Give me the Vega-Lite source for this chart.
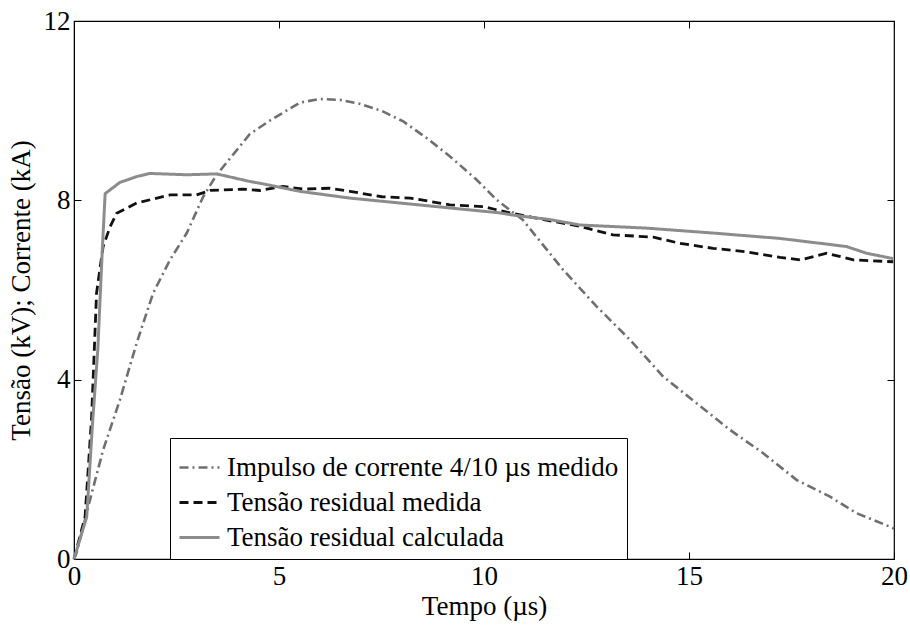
{
  "$schema": "https://vega.github.io/schema/vega-lite/v6.json",
  "width": 820,
  "height": 538,
  "autosize": "none",
  "padding": {"left": 74, "top": 21, "right": 16, "bottom": 66},
  "background": "white",
  "config": {
    "view": {"stroke": "black", "strokeWidth": 1.2},
    "font": "'Liberation Serif', 'DejaVu Serif', serif",
    "axis": {"grid": false, "domainColor": "black", "tickColor": "black", "labelColor": "black", "titleColor": "black", "labelFont": "'Liberation Serif', 'DejaVu Serif', serif", "titleFont": "'Liberation Serif', 'DejaVu Serif', serif", "labelFontSize": 27, "titleFontSize": 27, "titleFontWeight": "normal", "tickSize": -7, "tickWidth": 1}
  },
  "datasets": {
    "curves": [
      {"s": "Impulso de corrente 4/10 µs medido", "t": 0, "v": 0},
      {"s": "Impulso de corrente 4/10 µs medido", "t": 0.06, "v": 0.13},
      {"s": "Impulso de corrente 4/10 µs medido", "t": 0.39, "v": 1.32},
      {"s": "Impulso de corrente 4/10 µs medido", "t": 0.71, "v": 2.43},
      {"s": "Impulso de corrente 4/10 µs medido", "t": 1.12, "v": 3.55},
      {"s": "Impulso de corrente 4/10 µs medido", "t": 1.53, "v": 4.82},
      {"s": "Impulso de corrente 4/10 µs medido", "t": 1.93, "v": 5.93},
      {"s": "Impulso de corrente 4/10 µs medido", "t": 2.34, "v": 6.67},
      {"s": "Impulso de corrente 4/10 µs medido", "t": 2.75, "v": 7.27},
      {"s": "Impulso de corrente 4/10 µs medido", "t": 3.15, "v": 8.08},
      {"s": "Impulso de corrente 4/10 µs medido", "t": 3.48, "v": 8.57},
      {"s": "Impulso de corrente 4/10 µs medido", "t": 3.97, "v": 9.12},
      {"s": "Impulso de corrente 4/10 µs medido", "t": 4.29, "v": 9.48},
      {"s": "Impulso de corrente 4/10 µs medido", "t": 4.78, "v": 9.78},
      {"s": "Impulso de corrente 4/10 µs medido", "t": 5.51, "v": 10.18},
      {"s": "Impulso de corrente 4/10 µs medido", "t": 6.0, "v": 10.26},
      {"s": "Impulso de corrente 4/10 µs medido", "t": 6.49, "v": 10.24},
      {"s": "Impulso de corrente 4/10 µs medido", "t": 6.98, "v": 10.15},
      {"s": "Impulso de corrente 4/10 µs medido", "t": 7.52, "v": 9.99},
      {"s": "Impulso de corrente 4/10 µs medido", "t": 8.03, "v": 9.76},
      {"s": "Impulso de corrente 4/10 µs medido", "t": 8.6, "v": 9.39},
      {"s": "Impulso de corrente 4/10 µs medido", "t": 9.17, "v": 8.98},
      {"s": "Impulso de corrente 4/10 µs medido", "t": 9.82, "v": 8.46},
      {"s": "Impulso de corrente 4/10 µs medido", "t": 10.31, "v": 8.01},
      {"s": "Impulso de corrente 4/10 µs medido", "t": 10.95, "v": 7.56},
      {"s": "Impulso de corrente 4/10 µs medido", "t": 11.93, "v": 6.45},
      {"s": "Impulso de corrente 4/10 µs medido", "t": 12.75, "v": 5.63},
      {"s": "Impulso de corrente 4/10 µs medido", "t": 13.56, "v": 4.89},
      {"s": "Impulso de corrente 4/10 µs medido", "t": 14.37, "v": 4.07},
      {"s": "Impulso de corrente 4/10 µs medido", "t": 15.19, "v": 3.47},
      {"s": "Impulso de corrente 4/10 µs medido", "t": 16.0, "v": 2.88},
      {"s": "Impulso de corrente 4/10 µs medido", "t": 16.81, "v": 2.36},
      {"s": "Impulso de corrente 4/10 µs medido", "t": 17.63, "v": 1.76},
      {"s": "Impulso de corrente 4/10 µs medido", "t": 18.44, "v": 1.39},
      {"s": "Impulso de corrente 4/10 µs medido", "t": 19.09, "v": 1.02},
      {"s": "Impulso de corrente 4/10 µs medido", "t": 19.9, "v": 0.72},
      {"s": "Impulso de corrente 4/10 µs medido", "t": 20.0, "v": 0.68},
      {"s": "Tensão residual medida", "t": 0, "v": 0},
      {"s": "Tensão residual medida", "t": 0.27, "v": 0.94},
      {"s": "Tensão residual medida", "t": 0.43, "v": 3.17},
      {"s": "Tensão residual medida", "t": 0.55, "v": 5.93},
      {"s": "Tensão residual medida", "t": 0.71, "v": 6.97},
      {"s": "Tensão residual medida", "t": 0.88, "v": 7.41},
      {"s": "Tensão residual medida", "t": 1.04, "v": 7.71},
      {"s": "Tensão residual medida", "t": 1.53, "v": 7.94},
      {"s": "Tensão residual medida", "t": 2.34, "v": 8.12},
      {"s": "Tensão residual medida", "t": 2.99, "v": 8.12},
      {"s": "Tensão residual medida", "t": 3.32, "v": 8.22},
      {"s": "Tensão residual medida", "t": 4.12, "v": 8.25},
      {"s": "Tensão residual medida", "t": 4.54, "v": 8.22},
      {"s": "Tensão residual medida", "t": 5.1, "v": 8.31},
      {"s": "Tensão residual medida", "t": 5.6, "v": 8.25},
      {"s": "Tensão residual medida", "t": 6.24, "v": 8.27},
      {"s": "Tensão residual medida", "t": 6.73, "v": 8.2},
      {"s": "Tensão residual medida", "t": 7.51, "v": 8.08},
      {"s": "Tensão residual medida", "t": 8.2, "v": 8.05},
      {"s": "Tensão residual medida", "t": 9.17, "v": 7.9},
      {"s": "Tensão residual medida", "t": 9.98, "v": 7.86},
      {"s": "Tensão residual medida", "t": 10.63, "v": 7.72},
      {"s": "Tensão residual medida", "t": 11.52, "v": 7.56},
      {"s": "Tensão residual medida", "t": 12.34, "v": 7.42},
      {"s": "Tensão residual medida", "t": 13.15, "v": 7.23},
      {"s": "Tensão residual medida", "t": 14.13, "v": 7.18},
      {"s": "Tensão residual medida", "t": 14.78, "v": 7.04},
      {"s": "Tensão residual medida", "t": 15.59, "v": 6.93},
      {"s": "Tensão residual medida", "t": 16.4, "v": 6.85},
      {"s": "Tensão residual medida", "t": 17.22, "v": 6.73},
      {"s": "Tensão residual medida", "t": 17.71, "v": 6.67},
      {"s": "Tensão residual medida", "t": 18.36, "v": 6.82},
      {"s": "Tensão residual medida", "t": 19.01, "v": 6.67},
      {"s": "Tensão residual medida", "t": 19.98, "v": 6.63},
      {"s": "Tensão residual calculada", "t": 0, "v": 0},
      {"s": "Tensão residual calculada", "t": 0.31, "v": 0.94},
      {"s": "Tensão residual calculada", "t": 0.45, "v": 3.0},
      {"s": "Tensão residual calculada", "t": 0.58, "v": 4.66},
      {"s": "Tensão residual calculada", "t": 0.69, "v": 6.9},
      {"s": "Tensão residual calculada", "t": 0.76, "v": 8.15},
      {"s": "Tensão residual calculada", "t": 1.12, "v": 8.4},
      {"s": "Tensão residual calculada", "t": 1.53, "v": 8.53},
      {"s": "Tensão residual calculada", "t": 1.85, "v": 8.6},
      {"s": "Tensão residual calculada", "t": 2.75, "v": 8.57},
      {"s": "Tensão residual calculada", "t": 3.48, "v": 8.59},
      {"s": "Tensão residual calculada", "t": 4.29, "v": 8.42},
      {"s": "Tensão residual calculada", "t": 4.54, "v": 8.38},
      {"s": "Tensão residual calculada", "t": 5.51, "v": 8.2},
      {"s": "Tensão residual calculada", "t": 6.73, "v": 8.05},
      {"s": "Tensão residual calculada", "t": 7.95, "v": 7.94},
      {"s": "Tensão residual calculada", "t": 9.17, "v": 7.83},
      {"s": "Tensão residual calculada", "t": 10.39, "v": 7.72},
      {"s": "Tensão residual calculada", "t": 10.71, "v": 7.67},
      {"s": "Tensão residual calculada", "t": 11.61, "v": 7.57},
      {"s": "Tensão residual calculada", "t": 12.34, "v": 7.45},
      {"s": "Tensão residual calculada", "t": 13.97, "v": 7.38},
      {"s": "Tensão residual calculada", "t": 15.59, "v": 7.27},
      {"s": "Tensão residual calculada", "t": 17.22, "v": 7.15},
      {"s": "Tensão residual calculada", "t": 18.84, "v": 6.97},
      {"s": "Tensão residual calculada", "t": 19.33, "v": 6.82},
      {"s": "Tensão residual calculada", "t": 19.98, "v": 6.7}
    ]
  },
  "data": {"name": "curves"},
  "layer": [
    {
      "mark": {"type": "line", "interpolate": "linear", "strokeCap": "butt"},
      "encoding": {
        "x": {"field": "t", "type": "quantitative", "scale": {"domain": [0, 20], "nice": false, "zero": false}, "title": "Tempo (µs)",
              "axis": {"values": [0, 5, 10, 15, 20], "labelPadding": 11, "titlePadding": 4, "labelFlush": false}},
        "y": {"field": "v", "type": "quantitative", "scale": {"domain": [0, 12], "nice": false}, "title": "Tensão (kV); Corrente (kA)",
              "axis": {"values": [0, 4, 8, 12], "labelPadding": 11, "titlePadding": 8, "labelFlush": false}},
        "color": {"field": "s", "type": "nominal", "title": null,
                  "scale": {"domain": ["Impulso de corrente 4/10 µs medido", "Tensão residual medida", "Tensão residual calculada"], "range": ["#6f6f6f", "#111111", "#8c8c8c"]},
                  "legend": {"orient": "none", "legendX": 96, "legendY": 417, "symbolType": "stroke", "symbolSize": 1600, "labelFontSize": 27, "labelFont": "'Liberation Serif', 'DejaVu Serif', serif", "labelColor": "black", "strokeColor": "black", "fillColor": "white", "padding": 8, "rowPadding": -6, "labelOffset": 6, "labelLimit": 600, "symbolOffset": 0}},
        "strokeDash": {"field": "s", "type": "nominal", "title": null,
                       "scale": {"domain": ["Impulso de corrente 4/10 µs medido", "Tensão residual medida", "Tensão residual calculada"], "range": [[9, 4, 2, 4], [9, 5], [1, 0]]},
                       "legend": {"orient": "none", "legendX": 96, "legendY": 417, "symbolType": "stroke", "symbolSize": 1600, "labelFontSize": 27, "labelFont": "'Liberation Serif', 'DejaVu Serif', serif", "labelColor": "black", "strokeColor": "black", "fillColor": "white", "padding": 8, "rowPadding": -6, "labelOffset": 6, "labelLimit": 600, "symbolOffset": 0}},
        "strokeWidth": {"field": "s", "type": "nominal", "title": null,
                        "scale": {"domain": ["Impulso de corrente 4/10 µs medido", "Tensão residual medida", "Tensão residual calculada"], "range": [2.6, 3, 3.5]},
                        "legend": {"orient": "none", "legendX": 96, "legendY": 417, "symbolType": "stroke", "symbolSize": 1600, "labelFontSize": 27, "labelFont": "'Liberation Serif', 'DejaVu Serif', serif", "labelColor": "black", "strokeColor": "black", "fillColor": "white", "padding": 8, "rowPadding": -6, "labelOffset": 6, "labelLimit": 600, "symbolOffset": 0}}
      }
    },
    {
      "mark": {"type": "point", "opacity": 0},
      "encoding": {
        "x": {"field": "t", "type": "quantitative", "axis": {"orient": "top", "values": [0, 5, 10, 15, 20], "labels": false, "title": null, "domain": false}},
        "y": {"field": "v", "type": "quantitative", "axis": {"orient": "right", "values": [0, 4, 8, 12], "labels": false, "title": null, "domain": false}}
      }
    }
  ],
  "resolve": {"axis": {"x": "independent", "y": "independent"}}
}
